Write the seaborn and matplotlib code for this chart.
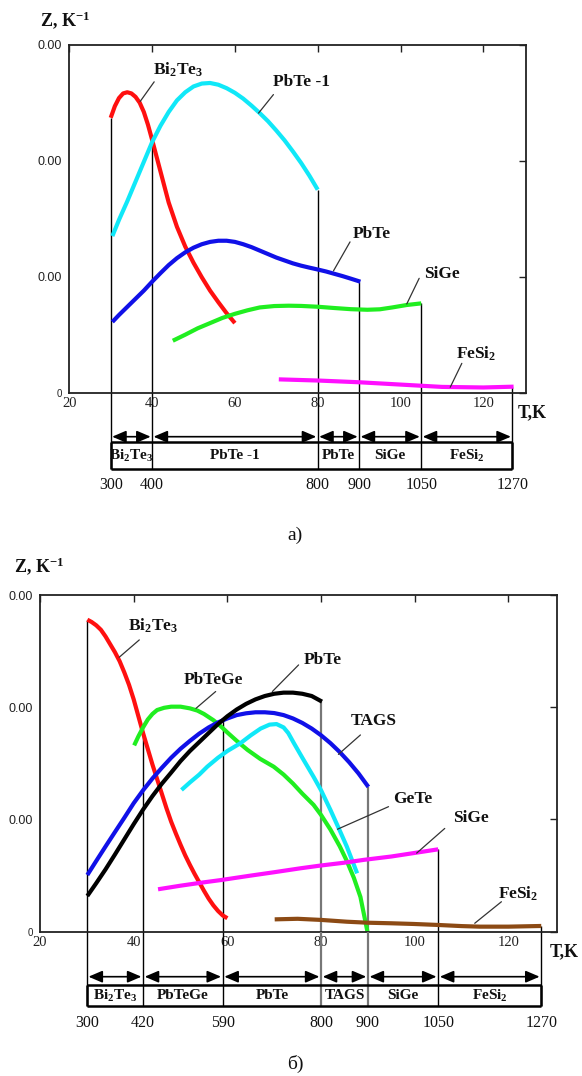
import numpy as np
import pandas as pd
import matplotlib
matplotlib.use('Agg')
import matplotlib.pyplot as plt
import seaborn as sns
from matplotlib.ticker import FuncFormatter, FixedLocator

# ---------------- DATA (x = T/10, Z in 1e-3 K^-1) ----------------
# Panel a
a_bi2te3_T = [30, 31, 32, 33, 34, 35, 36, 37, 38, 39, 40, 42, 44, 46, 48, 50, 52, 54, 56, 58, 60]
a_bi2te3_Z = [2.37, 2.47, 2.54, 2.58, 2.59, 2.58, 2.55, 2.50, 2.42, 2.31, 2.18, 1.91, 1.64, 1.43,
              1.26, 1.12, 0.995, 0.88, 0.78, 0.685, 0.60]
a_pbte1_T = [30.4, 32, 34, 36, 38, 40, 42, 44, 46, 48, 50, 52, 54, 56, 58, 60, 62, 64, 66, 68, 70,
             72, 74, 76, 78, 80]
a_pbte1_Z = [1.35, 1.49, 1.65, 1.82, 1.99, 2.16, 2.30, 2.42, 2.52, 2.59, 2.64, 2.665, 2.67, 2.655,
             2.625, 2.585, 2.535, 2.475, 2.41, 2.34, 2.26, 2.175, 2.08, 1.98, 1.87, 1.75]
a_pbte_T = [30.4, 32, 34, 36, 38, 40, 42, 44, 46, 48, 50, 52, 54, 56, 58, 60, 62, 64, 66, 68, 70,
            72, 74, 76, 78, 80, 82, 84, 86, 88, 90.3]
a_pbte_Z = [0.61, 0.67, 0.74, 0.81, 0.88, 0.957, 1.03, 1.10, 1.16, 1.21, 1.25, 1.28, 1.30, 1.31,
            1.31, 1.30, 1.28, 1.255, 1.225, 1.195, 1.165, 1.14, 1.115, 1.095, 1.078, 1.062, 1.045,
            1.025, 1.005, 0.983, 0.957]
a_sige_T = [45, 48, 51, 54, 57, 60, 63, 66, 69.5, 73, 76, 80, 84, 88, 92, 95, 98, 101.5, 105]
a_sige_Z = [0.448, 0.50, 0.555, 0.60, 0.645, 0.68, 0.71, 0.735, 0.747, 0.75, 0.748, 0.741, 0.73,
            0.72, 0.715, 0.719, 0.735, 0.756, 0.77]
a_fesi2_T = [70.6, 80, 90, 100, 110, 120, 127.3]
a_fesi2_Z = [0.115, 0.105, 0.09, 0.07, 0.05, 0.045, 0.052]

a_bounds_T = [300, 400, 800, 900, 1050, 1270]
a_bound_tops = [2.37, 2.18, 1.75, 0.957, 0.77, 0.05]
a_segments = ['Bi$_2$Te$_3$', 'PbTe -1', 'PbTe', 'SiGe', 'FeSi$_2$']

# Panel b
b_bi2te3_T = [30.1, 31, 32, 33, 34, 35, 36, 37, 38, 39, 40, 41, 42, 43, 44, 45, 46, 47, 48, 49, 50,
              51, 52, 53, 54, 55, 56, 57, 58, 59, 60]
b_bi2te3_Z = [2.78, 2.76, 2.73, 2.69, 2.63, 2.56, 2.49, 2.41, 2.31, 2.20, 2.07, 1.92, 1.77, 1.63,
              1.49, 1.36, 1.23, 1.10, 0.98, 0.875, 0.775, 0.68, 0.595, 0.515, 0.44, 0.365, 0.295,
              0.235, 0.185, 0.145, 0.12]
b_pbtege_T = [40.1, 41, 42, 43, 44, 45, 46.5, 48, 50, 52, 53.6, 55, 57, 58.6, 60, 62, 64.3, 67,
              69.9, 72, 74, 76, 78.4, 80, 82, 84, 85.5, 87, 88.4, 89.9]
b_pbtege_Z = [1.66, 1.74, 1.82, 1.89, 1.94, 1.975, 1.995, 2.005, 2.005, 1.99, 1.97, 1.94, 1.885,
              1.83, 1.775, 1.70, 1.62, 1.54, 1.47, 1.40, 1.32, 1.23, 1.13, 1.04, 0.91, 0.76, 0.63,
              0.48, 0.31, 0.0]
b_tags_T = [30.1, 32, 34, 36, 38, 40, 42, 44, 46, 48, 50, 52, 54, 56, 58, 60, 62, 64, 66, 68, 70,
            72, 74, 76, 78, 80, 82, 84, 86, 88, 90.1]
b_tags_Z = [0.505, 0.63, 0.76, 0.888, 1.015, 1.145, 1.26, 1.365, 1.46, 1.55, 1.63, 1.70, 1.765,
            1.82, 1.865, 1.90, 1.93, 1.946, 1.955, 1.955, 1.948, 1.93, 1.90, 1.86, 1.81, 1.75,
            1.68, 1.60, 1.51, 1.41, 1.29]
b_pbte_T = [30.1, 32, 34, 36, 38, 40, 42, 44, 46, 48, 50, 52, 54, 56, 58, 60, 62, 64, 66, 68, 70,
            72, 74, 76, 78, 80.2]
b_pbte_Z = [0.318, 0.432, 0.556, 0.688, 0.823, 0.958, 1.088, 1.208, 1.318, 1.418, 1.52, 1.61,
            1.69, 1.77, 1.85, 1.92, 1.98, 2.03, 2.07, 2.10, 2.12, 2.13, 2.13, 2.12, 2.10, 2.05]
b_gete_T = [50.2, 52, 54, 55.7, 58, 60, 62.8, 65, 67.1, 69, 70.5, 72, 73, 74.2, 76, 78.4, 80, 82,
            84, 85.5, 87.7]
b_gete_Z = [1.263, 1.33, 1.40, 1.47, 1.55, 1.61, 1.68, 1.75, 1.81, 1.845, 1.85, 1.82, 1.77, 1.68,
            1.55, 1.38, 1.26, 1.085, 0.90, 0.758, 0.52]
b_sige_T = [45.2, 50, 55, 58.6, 65, 70, 75.6, 80, 85, 89.1, 95, 99.7, 105]
b_sige_Z = [0.378, 0.41, 0.44, 0.46, 0.50, 0.53, 0.565, 0.59, 0.615, 0.64, 0.67, 0.70, 0.734]
b_fesi2_T = [70.1, 75, 80, 85.5, 90, 95, 99.7, 105, 110, 113.9, 120, 127]
b_fesi2_Z = [0.11, 0.115, 0.105, 0.089, 0.08, 0.075, 0.069, 0.06, 0.05, 0.045, 0.045, 0.051]

b_bounds_T = [300, 420, 590, 800, 900, 1050, 1270]
b_bound_tops = [2.78, 1.75, 1.88, 2.05, 1.29, 0.734, 0.05]
b_segments = ['Bi$_2$Te$_3$', 'PbTeGe', 'PbTe', 'TAGS', 'SiGe', 'FeSi$_2$']

x_ticks = [20, 40, 60, 80, 100, 120]
y_ticks = [0, 1, 2, 3]

# ---------------- STYLE ----------------
sns.set_theme(style='white')
plt.rcParams['font.family'] = ['Liberation Serif', 'DejaVu Serif']
plt.rcParams['mathtext.fontset'] = 'custom'
plt.rcParams['mathtext.rm'] = 'Liberation Serif:bold'
plt.rcParams['mathtext.bf'] = 'Liberation Serif:bold'
plt.rcParams['mathtext.it'] = 'Liberation Serif:bold:italic'

W, H = 582, 1076
fig = plt.figure(figsize=(W / 100, H / 100), dpi=100)


def rect(left, right, top, bottom):
    return [left / W, 1 - bottom / H, (right - left) / W, (bottom - top) / H]


XLIM = (20, 130.3)


def draw_panel(frame, tframe, tl, curves, palette, bounds_T, tops, segments, labels,
               grey_idx, ylab_xy, tk_xy, tag, tag_xy):
    ax = fig.add_axes(rect(*frame))
    rows = []
    for name, (T, Z) in curves.items():
        rows.append(pd.DataFrame({'T': T, 'Z': Z, 'mat': name}))
    df = pd.concat(rows, ignore_index=True)
    sns.lineplot(data=df, x='T', y='Z', hue='mat', palette=palette, ax=ax, legend=False,
                 lw=3.0, estimator=None, sort=False, units='mat', hue_order=list(curves))
    for ln in ax.get_lines():
        ln.set_solid_joinstyle('round')
        ln.set_solid_capstyle('butt')
    ax.set_xlim(*XLIM)
    ax.set_ylim(0, 3)
    ax.set_xlabel('')
    ax.set_ylabel('')
    ax.xaxis.set_major_locator(FixedLocator(x_ticks))
    ax.yaxis.set_major_locator(FixedLocator(y_ticks))
    ax.yaxis.set_major_formatter(FuncFormatter(
        lambda v, p: '0' if v == 0 else f'{v * 1e-3:.2f}'))
    ax.tick_params(direction='in', length=5, width=1, top=True, right=True,
                   colors='#222222')
    ax.tick_params(axis='x', labelsize=10.5, pad=3)
    ax.tick_params(axis='y', labelsize=9, pad=5, labelfontfamily='Liberation Sans')
    for lbl in ax.get_yticklabels():
        if lbl.get_text() == '0':
            lbl.set_fontsize(7)
    for s in ax.spines.values():
        s.set_color('#222222')
        s.set_linewidth(1.3)

    bx = [t / 10 for t in bounds_T]
    for i, (x, top) in enumerate(zip(bx, tops)):
        c = '#777777' if i in grey_idx else 'black'
        lw = 1.6 if i in grey_idx else 1.0
        ax.vlines(x, 0, top, color=c, lw=lw, zorder=1)

    for txt, tx, ty, x0, y0, x1, y1 in labels:
        ax.plot([x0, x1], [y0, y1], color='#333333', lw=0.9)
        ax.text(tx, ty, txt, ha='left', va='center', fontsize=12.5, fontweight='bold',
                color='#111111')

    # table axes
    tax = fig.add_axes(rect(*tframe))
    tax.set_xlim(*XLIM)
    tax.set_ylim(tl['h'], 0)
    tax.axis('off')
    tax.patch.set_alpha(0)
    for i, x in enumerate(bx):
        c = '#777777' if i in grey_idx else 'black'
        lw = 1.6 if i in grey_idx else 1.0
        tax.vlines(x, 0, tl['bot'], color=c, lw=lw)
    tax.hlines([tl['top'], tl['bot']], bx[0], bx[-1], color='black', lw=1.8)
    tax.vlines([bx[0], bx[-1]], tl['top'], tl['bot'], color='black', lw=1.8)
    for i, seg in enumerate(segments):
        x0, x1 = bx[i], bx[i + 1]
        tax.annotate('', xy=(x1 - 0.35, tl['arrow']), xytext=(x0 + 0.35, tl['arrow']),
                     arrowprops=dict(arrowstyle='<|-|>,head_length=0.7,head_width=0.3',
                                     color='black', lw=1.2, mutation_scale=12,
                                     shrinkA=0, shrinkB=0))
        tax.text((x0 + x1) / 2, tl['lab'], seg, ha='center', va='center', fontsize=11,
                 fontweight='bold', color='#111111')
    for x, t in zip(bx, bounds_T):
        tax.text(x, tl['num'], str(t), ha='center', va='center', fontsize=11.5,
                 color='#111111')

    fig.text(ylab_xy[0] / W, 1 - ylab_xy[1] / H, 'Z, K$^{-1}$', ha='left', va='center',
             fontsize=13, fontweight='bold', color='#111111')
    fig.text(tk_xy[0] / W, 1 - tk_xy[1] / H, 'T,K', ha='left', va='center',
             fontsize=13, fontweight='bold', color='#111111')
    fig.text(tag_xy[0] / W, 1 - tag_xy[1] / H, tag, ha='center', va='center', fontsize=14,
             color='#111111')


# Panel a
curves_a = {'Bi2Te3': (a_bi2te3_T, a_bi2te3_Z), 'PbTe-1': (a_pbte1_T, a_pbte1_Z),
            'PbTe': (a_pbte_T, a_pbte_Z), 'SiGe': (a_sige_T, a_sige_Z),
            'FeSi2': (a_fesi2_T, a_fesi2_Z)}
pal_a = {'Bi2Te3': '#ff1010', 'PbTe-1': '#10e8f8', 'PbTe': '#1010e8', 'SiGe': '#20ee20',
         'FeSi2': '#ff10ff'}
labels_a = [
    ('Bi$_2$Te$_3$', 40.2, 2.78, 40.5, 2.68, 37.1, 2.51),
    ('PbTe -1', 69.1, 2.68, 69.3, 2.57, 65.7, 2.41),
    ('PbTe', 88.4, 1.37, 87.8, 1.30, 83.8, 1.05),
    ('SiGe', 105.7, 1.02, 104.5, 0.986, 101.5, 0.765),
    ('FeSi$_2$', 113.4, 0.334, 114.8, 0.253, 112.0, 0.047),
]
draw_panel((69.3, 526, 44.7, 392.7), (69.3, 526, 392.7, 500),
           dict(h=107.3, arrow=44, top=49.6, bot=76.3, lab=63, num=92.3),
           curves_a, pal_a, a_bounds_T, a_bound_tops, a_segments, labels_a, [],
           (40, 20), (518, 413), 'a)', (295, 535))

# Panel b
curves_b = {'Bi2Te3': (b_bi2te3_T, b_bi2te3_Z), 'PbTeGe': (b_pbtege_T, b_pbtege_Z),
            'TAGS': (b_tags_T, b_tags_Z), 'PbTe': (b_pbte_T, b_pbte_Z),
            'GeTe': (b_gete_T, b_gete_Z), 'SiGe': (b_sige_T, b_sige_Z),
            'FeSi2': (b_fesi2_T, b_fesi2_Z)}
pal_b = {'Bi2Te3': '#ff1010', 'PbTeGe': '#20ee20', 'TAGS': '#1010e8', 'PbTe': '#000000',
         'GeTe': '#10e8f8', 'SiGe': '#ff10ff', 'FeSi2': '#8c4a14'}
labels_b = [
    ('Bi$_2$Te$_3$', 38.7, 2.73, 41.2, 2.60, 36.9, 2.445),
    ('PbTeGe', 50.6, 2.24, 57.5, 2.14, 53.3, 1.99),
    ('PbTe', 76.2, 2.42, 75.2, 2.377, 69.6, 2.14),
    ('TAGS', 86.4, 1.88, 88.4, 1.753, 83.7, 1.58),
    ('GeTe', 95.3, 1.18, 94.4, 1.114, 83.5, 0.913),
    ('SiGe', 108.2, 1.01, 106.4, 0.92, 100.4, 0.70),
    ('FeSi$_2$', 117.8, 0.342, 118.5, 0.267, 112.8, 0.075),
]
draw_panel((40, 556.7, 595, 931.7), (40, 556.7, 931.7, 1040),
           dict(h=108.3, arrow=45, top=53.3, bot=74.3, lab=63.8, num=91.6),
           curves_b, pal_b, b_bounds_T, b_bound_tops, b_segments, labels_b, [3, 4],
           (14, 566), (550, 952), 'б)', (295, 1064))

fig.savefig('out.png', dpi=100)
